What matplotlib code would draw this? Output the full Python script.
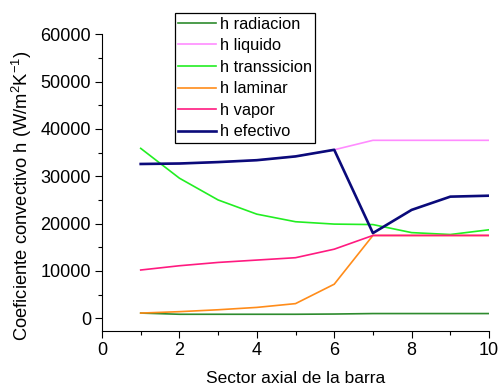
import matplotlib
matplotlib.use("Agg")
import matplotlib.pyplot as plt
from matplotlib.ticker import MultipleLocator

plt.rcParams['font.family'] = ['Liberation Sans', 'DejaVu Sans']
plt.rcParams['mathtext.fontset'] = 'custom'
plt.rcParams['mathtext.rm'] = 'Liberation Sans'
plt.rcParams['mathtext.it'] = 'Liberation Sans'

sector = [1, 2, 3, 4, 5, 6, 7, 8, 9, 10]
h_radiacion = [1100, 850, 850, 850, 850, 900, 1000, 1000, 1000, 1000]
h_liquido = [32600, 32700, 33000, 33400, 34200, 35600, 37600, 37600, 37600, 37600]
h_transsicion = [35900, 29600, 25000, 22000, 20400, 19900, 19800, 18100, 17700, 18700]
h_laminar = [1100, 1400, 1800, 2300, 3100, 7200, 17500, 17500, 17500, 17500]
h_vapor = [10200, 11100, 11800, 12300, 12800, 14600, 17500, 17500, 17500, 17500]
h_efectivo = [32600, 32700, 33000, 33400, 34200, 35600, 18000, 22900, 25700, 25900]

fig = plt.figure(figsize=(5.01, 3.87), dpi=100)
ax = fig.add_axes([0.2036, 0.1455, 0.7725, 0.7659])

ax.plot(sector, h_radiacion, color='#2e8b2e', lw=1.2, label='h radiacion')
ax.plot(sector, h_liquido, color='#ff8cff', lw=1.2, label='h liquido')
ax.plot(sector, h_transsicion, color='#22ee22', lw=1.2, label='h transsicion')
ax.plot(sector, h_laminar, color='#ff8c1a', lw=1.2, label='h laminar')
ax.plot(sector, h_vapor, color='#ff1a80', lw=1.2, label='h vapor')
ax.plot(sector, h_efectivo, color='#0a0a7a', lw=1.9, label='h efectivo')

ax.set_xlim(0, 10)
ax.set_ylim(-2620, 60000)
ax.spines['top'].set_visible(False)
ax.spines['right'].set_visible(False)
ax.spines['left'].set_bounds(-2620, 60000)
ax.xaxis.set_major_locator(MultipleLocator(2))
ax.xaxis.set_minor_locator(MultipleLocator(1))
ax.yaxis.set_major_locator(MultipleLocator(10000))
ax.yaxis.set_minor_locator(MultipleLocator(5000))
ax.tick_params(which='major', direction='out', length=5, width=0.8, labelsize=13, pad=3)
ax.tick_params(which='minor', direction='out', length=3, width=0.8)

ax.set_xlabel('Sector axial de la barra', fontsize=12.5, labelpad=9)
ax.set_ylabel('Coeficiente convectivo h (W/m$^2$K$^{-1}$)', fontsize=13.2)
ax.yaxis.set_label_coords(-0.176, 0.455)

leg = fig.legend(loc='upper left', bbox_to_anchor=(0.3487, 0.9656), bbox_transform=fig.transFigure,
                 fontsize=11.8, frameon=True, fancybox=False, edgecolor='black', framealpha=1,
                 handlelength=2.35, handletextpad=0.2, labelspacing=0.4, borderpad=0.2,
                 borderaxespad=0)
leg.get_frame().set_linewidth(0.9)

fig.savefig('out.png', dpi=100)
